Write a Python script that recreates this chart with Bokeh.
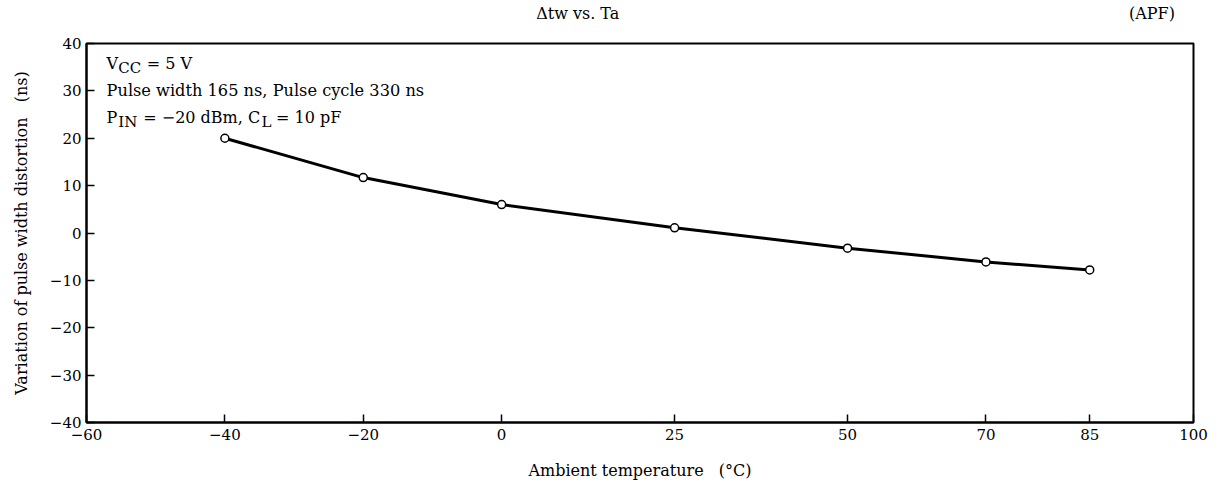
from bokeh.plotting import figure
from bokeh.models import Label, FixedTicker, Range1d, LinearAxis
from bokeh.embed import file_html
from bokeh.resources import INLINE

# ---- data ----
temps = [-40, -20, 0, 25, 50, 70, 85]
distortion = [20.0, 11.7, 6.0, 1.1, -3.2, -6.1, -7.8]
x_ticks = [-60, -40, -20, 0, 25, 50, 70, 85, 100]
y_ticks = [-40, -30, -20, -10, 0, 10, 20, 30, 40]
title_text = "\u0394tw vs. Ta"
corner_text = "(APF)"

SERIF = "DejaVu Serif"
NB = "\u00a0"

p = figure(width=1219, height=486, output_backend="svg", toolbar_location=None,
           x_range=Range1d(-60, 100), y_range=Range1d(-40, 40),
           min_border_left=86, min_border_right=26, min_border_top=40, min_border_bottom=64)

p.grid.visible = False
p.background_fill_color = "white"
p.border_fill_color = "white"
p.outline_line_color = "black"
p.outline_line_width = 2

def minus(v):
    return ("\u2212" + str(abs(v))) if v < 0 else str(v)

for ax, ticks in ((p.xaxis, x_ticks), (p.yaxis, y_ticks)):
    ax.ticker = FixedTicker(ticks=ticks)
    ax.major_label_overrides = {t: minus(t) for t in ticks}
    ax.minor_tick_line_color = None
    ax.major_tick_in = 8
    ax.major_tick_out = 0
    ax.major_tick_line_width = 1.5
    ax.axis_line_width = 2
    ax.major_label_text_font = SERIF
    ax.major_label_text_font_size = "15px"
    ax.major_label_text_color = "black"
    ax.axis_label_text_font = SERIF
    ax.axis_label_text_font_size = "16px"
    ax.axis_label_text_font_style = "normal"
    ax.axis_label_text_color = "black"

p.xaxis.axis_label = "Ambient temperature" + NB * 3 + "(\u00b0C)"
p.yaxis.axis_label = "Variation of pulse width distortion" + NB * 3 + "(ns)"
p.xaxis.major_label_standoff = 6
p.xaxis.axis_label_standoff = 18
p.yaxis.major_label_standoff = 5
p.yaxis.axis_label_standoff = 16

# title row drawn as an unlined axis above the frame
top = LinearAxis(ticker=FixedTicker(ticks=[11, 94]),
                 major_label_overrides={11: title_text, 94: corner_text},
                 axis_line_color=None, major_tick_line_color=None,
                 minor_tick_line_color=None, major_label_standoff=15,
                 major_label_text_font=SERIF, major_label_text_font_size="16px",
                 major_label_text_color="black")
p.add_layout(top, "above")

p.line(temps, distortion, line_color="black", line_width=3)
p.scatter(temps, distortion, marker="circle", size=8, fill_color="white",
          line_color="black", line_width=1.5)

def lab(x, y, text, size="16px", style="normal", align="left", baseline="alphabetic"):
    p.add_layout(Label(x=x, y=y, text=text, text_font=SERIF, text_font_size=size,
                       text_font_style=style, text_align=align, text_baseline=baseline,
                       text_color="black"))

# annotation block
lab(-57.1, 35.8, "V")
lab(-55.4, 34.8, "CC", size="15px")
lab(-51.3, 35.8, "= 5 V")
lab(-57.1, 30.1, "Pulse width 165 ns, Pulse cycle 330 ns", size="16.2px")
lab(-57.1, 24.4, "P")
lab(-55.4, 23.5, "IN", size="15px")
lab(-51.8, 24.4, "= \u221220 dBm, C")
lab(-34.7, 23.5, "L", size="15px")
lab(-32.6, 24.4, "= 10 pF")

open("out.html", "w").write(file_html(p, INLINE))
